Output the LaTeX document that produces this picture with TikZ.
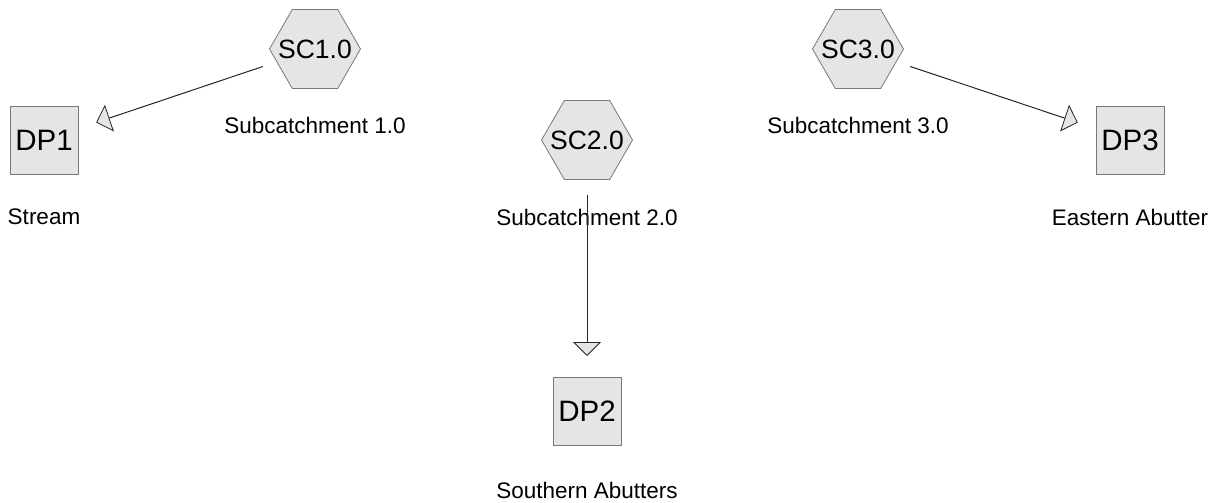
\documentclass[tikz,border=0pt]{standalone}
\usepackage{fontspec}
\setmainfont{Liberation Sans}
\usetikzlibrary{shapes.geometric, arrows.meta}
\definecolor{nodefill}{gray}{0.9}
\definecolor{nodeedge}{gray}{0.47}
\tikzset{
  sub area/.style={
    regular polygon, regular polygon sides=6,  % flat top hexagon
    minimum size=91pt, inner sep=0pt,
    fill=nodefill, draw=nodeedge, line width=0.8pt,
    font=\fontsize{26.5}{30}\selectfont
  },
  design point/.style={
    rectangle, minimum size=68pt, inner sep=0pt,
    fill=nodefill, draw=nodeedge, line width=0.8pt,
    font=\fontsize{29.5}{33}\selectfont
  },
  caption/.style={font=\fontsize{22.5}{26}\selectfont, inner sep=0pt},
  flow/.style={
    line width=1pt, draw=black!85,
    -{Triangle[width=28pt, length=14pt, fill=nodefill, line width=0.8pt]},
    shorten <=55pt, shorten >=55pt
  }
}

\begin{document}
\begin{tikzpicture}[x=1pt, y=-1pt]
    \path[use as bounding box] (0,0) rectangle (1221,503);

    % Subcatchments
    \node[sub area] (sc1) at (315,49)  {\makebox[0pt]{SC1.0}};
    \node[sub area] (sc2) at (587,140) {\makebox[0pt]{SC2.0}};
    \node[sub area] (sc3) at (858,49)  {\makebox[0pt]{SC3.0}};
    \node[caption] (sc1 name) at (315,125) {Subcatchment 1.0};
    \node[caption] (sc2 name) at (587,217) {Subcatchment 2.0};
    \node[caption] (sc3 name) at (858,125) {Subcatchment 3.0};

    % Design points
    \node[design point] (dp1) at (44,140)   {DP1};
    \node[design point] (dp2) at (587,411)  {DP2};
    \node[design point] (dp3) at (1130,140) {DP3};
    \node[caption] (dp1 name) at (44,217)   {Stream};
    \node[caption] (dp2 name) at (587,490)  {Southern Abutters};
    \node[caption] (dp3 name) at (1130,217) {Eastern Abutter};

    % Flow links
    \foreach \from/\to in {sc1/dp1, sc2/dp2, sc3/dp3} {
    	\draw[flow] (\from.center) -- (\to.center);
    }
\end{tikzpicture}
\end{document}
